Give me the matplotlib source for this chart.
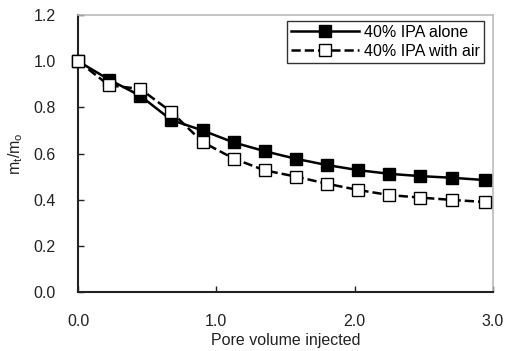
import matplotlib
matplotlib.use("Agg")
import matplotlib.pyplot as plt

plt.rcParams['font.family'] = ['Liberation Sans', 'DejaVu Sans']
plt.rcParams['mathtext.fontset'] = 'custom'
plt.rcParams['mathtext.rm'] = 'Liberation Sans'
plt.rcParams['mathtext.it'] = 'Liberation Sans'

pv = [0.0, 0.225, 0.45, 0.675, 0.90, 1.125, 1.35, 1.575, 1.80, 2.025, 2.25, 2.475, 2.70, 2.94]
ipa_alone = [1.0, 0.92, 0.85, 0.745, 0.70, 0.648, 0.61, 0.577, 0.55, 0.528, 0.512, 0.502, 0.495, 0.485]
ipa_air = [1.0, 0.895, 0.88, 0.78, 0.65, 0.578, 0.527, 0.50, 0.469, 0.442, 0.42, 0.409, 0.399, 0.39]

fig = plt.figure(figsize=(5.12, 3.51), dpi=100)
ax = fig.add_axes([78/512, 1-292/351, (493-78)/512, (292-15)/351])

ax.plot(pv, ipa_alone, '-', color='black', lw=1.8, marker='s', ms=9,
        mfc='black', mec='black', label='40% IPA alone', clip_on=False, zorder=3)
ax.plot(pv, ipa_air, '--', color='black', lw=1.8, marker='s', ms=9,
        mfc='white', mec='black', mew=1.0, label='40% IPA with air', clip_on=False, zorder=3)

ax.set_xlim(0, 3.0)
ax.set_ylim(0, 1.2)
ax.set_xticks([0, 1, 2, 3])
ax.set_xticklabels(['0.0', '1.0', '2.0', '3.0'])
ax.set_yticks([0, 0.2, 0.4, 0.6, 0.8, 1.0, 1.2])
ax.set_yticklabels(['0.0', '0.2', '0.4', '0.6', '0.8', '1.0', '1.2'])
ax.tick_params(direction='in', length=4, width=1, labelsize=11.5, colors='#222222')
ax.tick_params(axis='y', pad=16)
ax.tick_params(axis='x', pad=16)
for s in ['left', 'bottom']:
    ax.spines[s].set_linewidth(1.5)
    ax.spines[s].set_color('#222222')
for s in ['top', 'right']:
    ax.spines[s].set_linewidth(1.2)
    ax.spines[s].set_color('#bbbbbb')

ax.set_xlabel('Pore volume injected', fontsize=11.5, color='#222222', labelpad=3)
ax.set_ylabel('m$_t$/m$_o$', fontsize=11.5, color='#222222', labelpad=6)

leg = ax.legend(loc='upper right', fontsize=11.5, frameon=True, fancybox=False,
                edgecolor='black', handlelength=4.3, borderpad=0.25, labelspacing=0.25,
                handletextpad=0.3, borderaxespad=0, bbox_to_anchor=(0.978, 0.978))
leg.get_frame().set_linewidth(1.0)

fig.savefig('out.png', dpi=100)
